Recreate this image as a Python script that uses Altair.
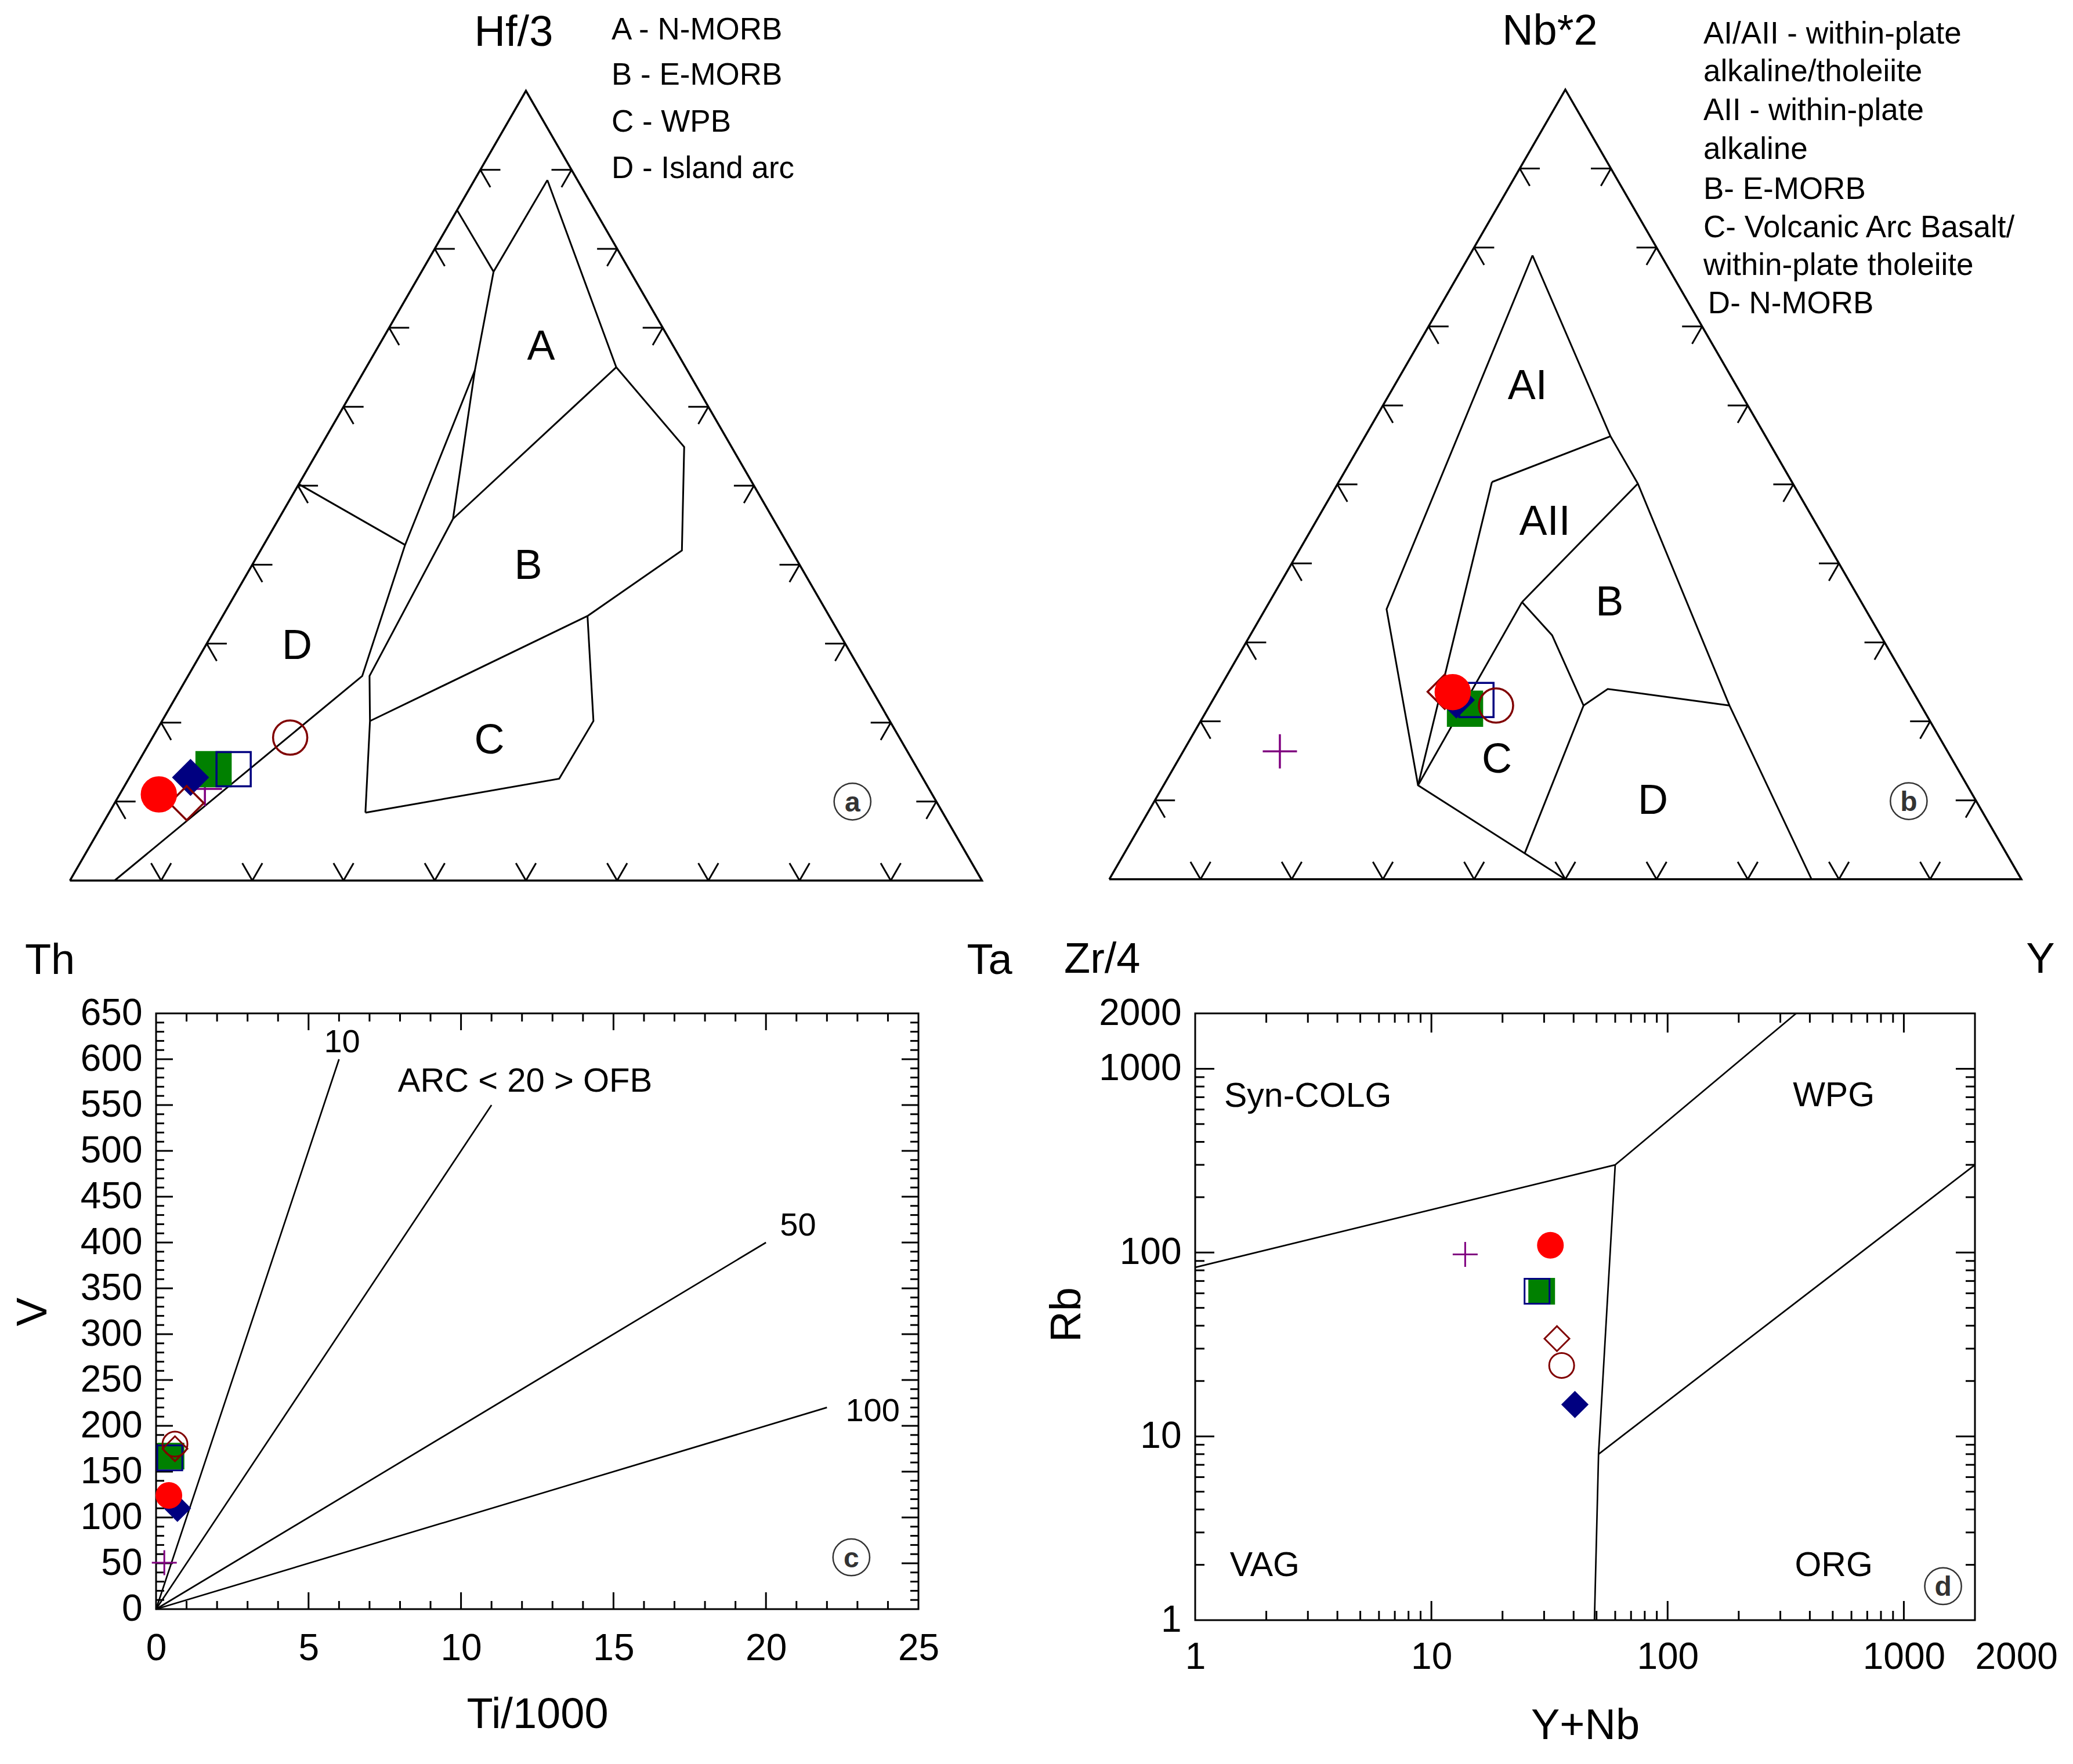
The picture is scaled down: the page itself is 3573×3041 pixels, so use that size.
import math
import altair as alt
import pandas as pd

FONT = "Liberation Sans"
H3 = math.sqrt(3) / 2.0

# ---------------- samples (drawing order) ----------------
SAMPLES = ["s1", "s2", "s3", "s4", "s5", "s6", "s7"]
SAMPLE_SHAPES = ["M-1,0L1,0M0,-1L0,1", "square", "square", "diamond", "diamond", "circle", "circle"]
SAMPLE_STROKES = ["#800080", "#008000", "#000080", "#000080", "#800000", "#ff0000", "#800000"]
SAMPLE_FILLS = ["transparent", "#008000", "transparent", "#000080", "transparent", "#ff0000", "transparent"]

# (a) Th - Hf/3 - Ta : Hf/3 (%) and Ta (%), Th is the remainder
A_HF3 = [11.6, 14.1, 14.1, 13.05, 9.8, 10.9, 18.1]
A_TA = [9.0, 8.7, 10.9, 6.7, 7.9, 4.3, 15.1]
# (b) Zr/4 - Nb*2 - Y : Nb*2 (%) and Y (%), Zr/4 is the remainder
B_NB2 = [16.2, 21.6, 22.7, 22.7, 23.75, 23.7, 22.0]
B_Y = [10.6, 28.2, 28.9, 26.7, 24.9, 25.8, 31.4]
# (c) Ti/1000 vs V
C_TI = [0.27, 0.49, 0.45, 0.70, 0.62, 0.42, 0.62]
C_V = [50.6, 167, 165, 110, 175, 124, 180]
# (d) Y+Nb vs Rb
D_YNB = [13.9, 29.3, 28.0, 40.5, 34.0, 31.9, 35.6]
D_RB = [97.6, 61.6, 61.6, 14.9, 34.0, 109.5, 24.3]

# ---------------- field boundaries ----------------
# (a) vertices as (Hf/3 %, Ta %)
A_VERTS = {
    "p1": (84.9, 0.0), "p2": (77.1, 7.9), "p3": (88.7, 8.0), "p4": (65.0, 27.4),
    "p5": (64.6, 12.1), "p6": (45.8, 19.1), "p7": (50.2, 0.0), "p8": (42.5, 15.5),
    "p9": (25.9, 19.1), "p10": (25.9, 19.9), "p11": (54.9, 39.9), "p12": (41.8, 46.2),
    "p13": (33.5, 40.0), "p14": (20.2, 22.8), "p15": (20.2, 47.3), "p16": (12.9, 47.2),
    "p17": (8.6, 28.1), "p18": (0.0, 4.9),
}
A_LINES = [["p1", "p2"], ["p3", "p2", "p5", "p6"], ["p3", "p4"], ["p6", "p4"],
           ["p4", "p11", "p12", "p13"], ["p6", "p10", "p14", "p17"], ["p14", "p13"],
           ["p13", "p15", "p16", "p17"], ["p7", "p8"], ["p5", "p8", "p9", "p18"]]
A_FIELD_TXT = ["A", "B", "C", "D"]
A_FIELD_TOP = [67.9, 40.1, 18.0, 30.0]
A_FIELD_RIGHT = [17.7, 30.2, 37.0, 9.9]
A_CORNER_TXT = ["Hf/3", "Th", "Ta"]
A_CORNER_X = [0.4866, -0.0219, 1.0083]
A_CORNER_Y = [0.9319, -0.0857, -0.0857]
A_LEGEND_TXT = ["A - N-MORB", "B - E-MORB", "C - WPB", "D - Island arc"]
A_LEGEND_X = [0.5938, 0.5938, 0.5938, 0.5938]
A_LEGEND_Y = [0.9344, 0.8849, 0.8331, 0.7826]
A_CIRC = ("a", 10.0, 80.8)

# (b) vertices as (Nb*2 %, Y %)
B_VERTS = {
    "q1": (79.0, 6.9), "q2": (34.2, 13.3), "q3": (11.9, 27.9), "q4": (0.0, 50.0),
    "q6": (56.1, 26.9), "q7": (50.3, 16.8), "q8": (50.1, 32.9), "q9": (0.0, 77.0),
    "q10": (35.1, 27.7), "q11": (30.9, 33.1), "q12": (22.0, 41.0), "q13": (24.1, 42.6),
    "q14": (22.0, 57.0), "q15": (3.3, 43.9),
}
B_LINES = [["q1", "q2", "q3", "q4"], ["q1", "q6", "q8", "q14", "q9"], ["q7", "q6"],
           ["q7", "q3"], ["q8", "q10"], ["q10", "q3"], ["q10", "q11", "q12"],
           ["q12", "q13", "q14"], ["q12", "q15"]]
B_FIELD_TXT = ["AI", "AII", "B", "C", "D"]
B_FIELD_TOP = [62.7, 45.5, 35.3, 15.4, 10.2]
B_FIELD_RIGHT = [14.5, 25.0, 37.2, 34.8, 54.5]
B_CORNER_TXT = ["Nb*2", "Zr/4", "Y"]
B_CORNER_X = [0.4831, -0.0078, 1.021]
B_CORNER_Y = [0.9321, -0.0857, -0.0857]
B_LEGEND_TXT = ["AI/AII - within-plate", "alkaline/tholeiite", "AII - within-plate",
                "alkaline", "B- E-MORB", "C- Volcanic Arc Basalt/",
                "within-plate tholeiite", "D- N-MORB"]
B_LEGEND_X = [0.6514] * 7 + [0.6564]
B_LEGEND_Y = [0.9289, 0.8871, 0.8447, 0.8023, 0.7579, 0.7161, 0.6748, 0.6326]
B_CIRC = ("b", 9.9, 82.7)

TERN_TICKS = [10, 20, 30, 40, 50, 60, 70, 80, 90]
TERN_TICK_LEN = 2.2
TRI_CORNERS = [(0, 0), (100, 0), (0, 100), (0, 0)]

# (c) Ti/V ratio lines: end points (Ti/1000, V), all starting at the origin
C_RATIO = ["10", "20", "50", "100"]
C_RATIO_TI = [6, 11, 20, 22]
C_RATIO_V = [600, 550, 400, 220]
C_LABEL_TXT = ["10", "50", "100"]
C_LABEL_TI = [6.1, 21.05, 23.5]
C_LABEL_V = [620, 420, 218]
C_ARC = ("ARC < 20 > OFB", 12.1, 577)
C_CIRC = ("c", 22.8, 56.5)
C_XLABELS = [0, 5, 10, 15, 20, 25]
C_YLABELS = list(range(0, 651, 50))
C_XMAJOR = [5, 10, 15, 20]
C_XMINOR = [v for v in range(1, 25) if v % 5]
C_YMAJOR = list(range(50, 601, 50))
C_YMINOR = [v for v in range(10, 650, 10) if v % 50]

# (d) Pearce et al. field boundaries (Y+Nb, Rb)
D_LINES = [[(1, 83), (60, 300)], [(60, 300), (350, 2000)],
           [(60, 300), (51, 8), (49, 1)], [(51, 8), (2000, 300)]]
D_LABEL_TXT = ["Syn-COLG", "WPG", "VAG", "ORG"]
D_LABEL_X = [3.0, 505, 1.97, 505]
D_LABEL_Y = [725, 726, 2.03, 2.03]
D_CIRC = ("d", 1466, 1.53)
D_LABELS = [1, 10, 100, 1000, 2000]
D_MAJOR = [10, 100, 1000]
D_MINOR = [m * 10 ** k for k in range(3) for m in range(2, 10)]

# ---------------- layout (pixels) ----------------
SIDE = 1572.0
COL0_X, COL1_X = 267.0, 2058.0
ROW0_Y, ROW1_Y = 156.5, 1746.5
W_AC, W_BD = 1314, 1344
H_AB, H_C, H_D = 1361, 1027, 1046
A_BL = (118.5, 1517.5)
B_BL = (1910.0, 1515.3)


def dom_x(bl, col_x, w):
    return [(col_x - bl[0]) / SIDE, (col_x + w - bl[0]) / SIDE]


def dom_y(bl, row_y, h):
    return [(bl[1] - (row_y + h)) / SIDE, (bl[1] - row_y) / SIDE]


def txy(top, right):
    return right / 100.0 + top / 200.0, top / 100.0 * H3


def text_layer(df, X, Y, size, align="center", bold=False, color="black"):
    return alt.Chart(df).mark_text(
        font=FONT, fontSize=size, align=align, baseline="middle",
        dy=round(0.058 * size), fontWeight="bold" if bold else "normal",
        color=color, clip=False,
    ).encode(x=X, y=Y, text="t:N")


def circ_layers(x, y, letter, X, Y):
    df = pd.DataFrame({"x": [x], "y": [y], "t": [letter]})
    ring = alt.Chart(df).mark_point(
        shape="circle", size=4000, filled=False, stroke="#333333",
        strokeWidth=2.5, opacity=1, clip=False).encode(x=X, y=Y)
    return [ring, text_layer(df, X, Y, 48, bold=True, color="#333333")]


def sample_layer(df, X, Y, size, sw):
    return alt.Chart(df).mark_point(size=size, strokeWidth=sw, opacity=1, clip=False).encode(
        x=X, y=Y,
        shape=alt.Shape("sample:N", scale=alt.Scale(domain=SAMPLES, range=SAMPLE_SHAPES), legend=None),
        stroke=alt.Stroke("sample:N", scale=alt.Scale(domain=SAMPLES, range=SAMPLE_STROKES), legend=None),
        fill=alt.Fill("sample:N", scale=alt.Scale(domain=SAMPLES, range=SAMPLE_FILLS), legend=None),
    )


def ternary_panel(verts, lines, s_top, s_right, f_txt, f_top, f_right,
                  c_txt, c_x, c_y, l_txt, l_x, l_y, circ, xdom, ydom, width, height):
    sx = alt.Scale(domain=xdom, nice=False, zero=False)
    sy = alt.Scale(domain=ydom, nice=False, zero=False)
    X = alt.X("x:Q", scale=sx, axis=None)
    Y = alt.Y("y:Q", scale=sy, axis=None)

    frame = []
    for i, (t, r) in enumerate(TRI_CORNERS):
        x, y = txy(t, r)
        frame.append({"seq": i, "x": x, "y": y})
    frame_l = alt.Chart(pd.DataFrame(frame)).mark_line(
        color="black", strokeWidth=3.5, clip=False).encode(x=X, y=Y, order="seq:Q")

    rows = []
    for li, names in enumerate(lines):
        for j, n in enumerate(names):
            x, y = txy(*verts[n])
            rows.append({"line": f"l{li}", "seq": j, "x": x, "y": y})
    field_l = alt.Chart(pd.DataFrame(rows)).mark_line(
        color="black", strokeWidth=3, clip=False).encode(
        x=X, y=Y, detail="line:N", order="seq:Q")

    d = TERN_TICK_LEN
    segs = []
    for p in TERN_TICKS:
        arms = [((0, p), (d, p)), ((0, p), (d, p - d)),                  # bottom edge
                ((p, 0), (p, d)), ((p, 0), (p - d, d)),                  # left edge
                ((p, 100 - p), (p, 100 - p - d)), ((p, 100 - p), (p - d, 100 - p))]  # right edge
        for a, b in arms:
            x1, y1 = txy(*a)
            x2, y2 = txy(*b)
            segs.append({"x": x1, "y": y1, "x2": x2, "y2": y2})
    ticks_l = alt.Chart(pd.DataFrame(segs)).mark_rule(
        color="black", strokeWidth=3, clip=False).encode(
        x=X, y=Y, x2="x2:Q", y2="y2:Q")

    fxy = [txy(t, r) for t, r in zip(f_top, f_right)]
    fdf = pd.DataFrame({"x": [p[0] for p in fxy], "y": [p[1] for p in fxy], "t": f_txt})
    cdf = pd.DataFrame({"x": c_x, "y": c_y, "t": c_txt})
    ldf = pd.DataFrame({"x": l_x, "y": l_y, "t": l_txt})

    sxy = [txy(t, r) for t, r in zip(s_top, s_right)]
    sdf = pd.DataFrame({"x": [p[0] for p in sxy], "y": [p[1] for p in sxy], "sample": SAMPLES})

    cx, cy = txy(circ[1], circ[2])
    layers = [frame_l, field_l, ticks_l,
              text_layer(fdf, X, Y, 72), text_layer(cdf, X, Y, 74),
              text_layer(ldf, X, Y, 53, align="left")]
    layers += circ_layers(cx, cy, circ[0], X, Y)
    layers.append(sample_layer(sdf, X, Y, 3481, 3.5))
    return alt.layer(*layers).properties(width=width, height=height)


def tick_layers(vals, L, chan, scale, ax, W, H):
    base = alt.Chart(pd.DataFrame({"v": vals})).mark_rule(color="black", strokeWidth=3, clip=False)
    if chan == "y":
        enc = alt.Y("v:Q", scale=scale, axis=ax)
        return [base.encode(y=enc, x=alt.value(0), x2=alt.value(L)),
                base.encode(y=enc, x=alt.value(W - L), x2=alt.value(W))]
    enc = alt.X("v:Q", scale=scale, axis=ax)
    return [base.encode(x=enc, y=alt.value(0), y2=alt.value(L)),
            base.encode(x=enc, y=alt.value(H - L), y2=alt.value(H))]


def axis(values, title, horizontal, title_x, title_y, pad, label_align=None):
    kw = dict(values=values, format="d", ticks=False, tickSize=0, domain=False, grid=False,
              labelFont=FONT, labelFontSize=64, labelColor="black", labelPadding=pad,
              labelOverlap=False, title=title, titleFont=FONT, titleFontSize=74,
              titleFontWeight="normal", titleColor="black", titleX=title_x, titleY=title_y,
              titleBaseline="middle", titleAlign="center")
    if horizontal:
        kw["labelFlush"] = False
    if label_align is not None:
        kw["labelAlign"] = label_align
    return alt.Axis(**kw)


# ---------------- panel a / b ----------------
panel_a = ternary_panel(A_VERTS, A_LINES, A_HF3, A_TA, A_FIELD_TXT, A_FIELD_TOP, A_FIELD_RIGHT,
                        A_CORNER_TXT, A_CORNER_X, A_CORNER_Y, A_LEGEND_TXT, A_LEGEND_X, A_LEGEND_Y,
                        A_CIRC, dom_x(A_BL, COL0_X, W_AC), dom_y(A_BL, ROW0_Y, H_AB), W_AC, H_AB)
panel_b = ternary_panel(B_VERTS, B_LINES, B_NB2, B_Y, B_FIELD_TXT, B_FIELD_TOP, B_FIELD_RIGHT,
                        B_CORNER_TXT, B_CORNER_X, B_CORNER_Y, B_LEGEND_TXT, B_LEGEND_X, B_LEGEND_Y,
                        B_CIRC, dom_x(B_BL, COL1_X, W_BD), dom_y(B_BL, ROW0_Y, H_AB), W_BD, H_AB)

# ---------------- panel c ----------------
c_sx = alt.Scale(domain=[0, 25], nice=False, zero=False)
c_sy = alt.Scale(domain=[0, 650], nice=False, zero=False)
c_xax = axis(C_XLABELS, "Ti/1000", True, W_AC / 2, 182, 36)
c_yax = axis(C_YLABELS, "V", False, -212, 514, 24)
cX = alt.X("x:Q", scale=c_sx, axis=c_xax)
cY = alt.Y("y:Q", scale=c_sy, axis=c_yax)
c_rows = []
for r, xe, ve in zip(C_RATIO, C_RATIO_TI, C_RATIO_V):
    c_rows += [{"line": r, "seq": 0, "x": 0, "y": 0}, {"line": r, "seq": 1, "x": xe, "y": ve}]
c_lines = alt.Chart(pd.DataFrame(c_rows)).mark_line(color="black", strokeWidth=2.7).encode(
    x=cX, y=cY, detail="line:N", order="seq:Q")
c_pts = sample_layer(pd.DataFrame({"x": C_TI, "y": C_V, "sample": SAMPLES}), cX, cY, 1849, 3)
c_lab = text_layer(pd.DataFrame({"x": C_LABEL_TI, "y": C_LABEL_V, "t": C_LABEL_TXT}), cX, cY, 56)
c_arc = text_layer(pd.DataFrame({"x": [C_ARC[1]], "y": [C_ARC[2]], "t": [C_ARC[0]]}), cX, cY, 58)
c_layers = [c_lines, c_lab, c_arc]
c_layers += tick_layers(C_YMAJOR, 29, "y", c_sy, c_yax, W_AC, H_C)
c_layers += tick_layers(C_YMINOR, 14, "y", c_sy, c_yax, W_AC, H_C)
c_layers += tick_layers(C_XMAJOR, 29, "x", c_sx, c_xax, W_AC, H_C)
c_layers += tick_layers(C_XMINOR, 14, "x", c_sx, c_xax, W_AC, H_C)
c_layers += circ_layers(C_CIRC[1], C_CIRC[2], C_CIRC[0], cX, cY)
c_layers.append(c_pts)
panel_c = alt.layer(*c_layers).properties(
    width=W_AC, height=H_C, view=alt.ViewBackground(stroke="black", strokeWidth=3))

# ---------------- panel d ----------------
d_sx = alt.Scale(type="log", domain=[1, 2000], nice=False)
d_sy = alt.Scale(type="log", domain=[1, 2000], nice=False)
x_align = {"condition": {"test": "datum.value >= 2000", "value": "left"}, "value": "center"}
d_xax = axis(D_LABELS, "Y+Nb", True, W_BD / 2, 182, 32, x_align)
d_yax = axis(D_LABELS, "Rb", False, -221, 519, 24)
dX = alt.X("x:Q", scale=d_sx, axis=d_xax)
dY = alt.Y("y:Q", scale=d_sy, axis=d_yax)
d_rows = []
for li, pts in enumerate(D_LINES):
    for j, (xv, yv) in enumerate(pts):
        d_rows.append({"line": f"d{li}", "seq": j, "x": xv, "y": yv})
d_lines = alt.Chart(pd.DataFrame(d_rows)).mark_line(color="black", strokeWidth=2.7).encode(
    x=dX, y=dY, detail="line:N", order="seq:Q")
d_pts = sample_layer(pd.DataFrame({"x": D_YNB, "y": D_RB, "sample": SAMPLES}), dX, dY, 1849, 3)
d_lab = text_layer(pd.DataFrame({"x": D_LABEL_X, "y": D_LABEL_Y, "t": D_LABEL_TXT}), dX, dY, 59)
d_layers = [d_lines, d_lab]
d_layers += tick_layers(D_MAJOR, 33, "y", d_sy, d_yax, W_BD, H_D)
d_layers += tick_layers(D_MINOR, 16, "y", d_sy, d_yax, W_BD, H_D)
d_layers += tick_layers(D_MAJOR, 33, "x", d_sx, d_xax, W_BD, H_D)
d_layers += tick_layers(D_MINOR, 16, "x", d_sx, d_xax, W_BD, H_D)
d_layers += circ_layers(D_CIRC[1], D_CIRC[2], D_CIRC[0], dX, dY)
d_layers.append(d_pts)
panel_d = alt.layer(*d_layers).properties(
    width=W_BD, height=H_D, view=alt.ViewBackground(stroke="black", strokeWidth=3))

chart = alt.concat(
    panel_a, panel_b, panel_c, panel_d, columns=2,
    spacing={"row": ROW1_Y - ROW0_Y - H_AB, "column": COL1_X - COL0_X - W_AC},
    bounds="flush", align="each",
).properties(
    padding={"left": 10, "top": 9, "right": 10, "bottom": 10}
).configure(font=FONT).configure_view(stroke="transparent")

chart.save("out.html", embed_options={"renderer": "svg", "actions": False})
